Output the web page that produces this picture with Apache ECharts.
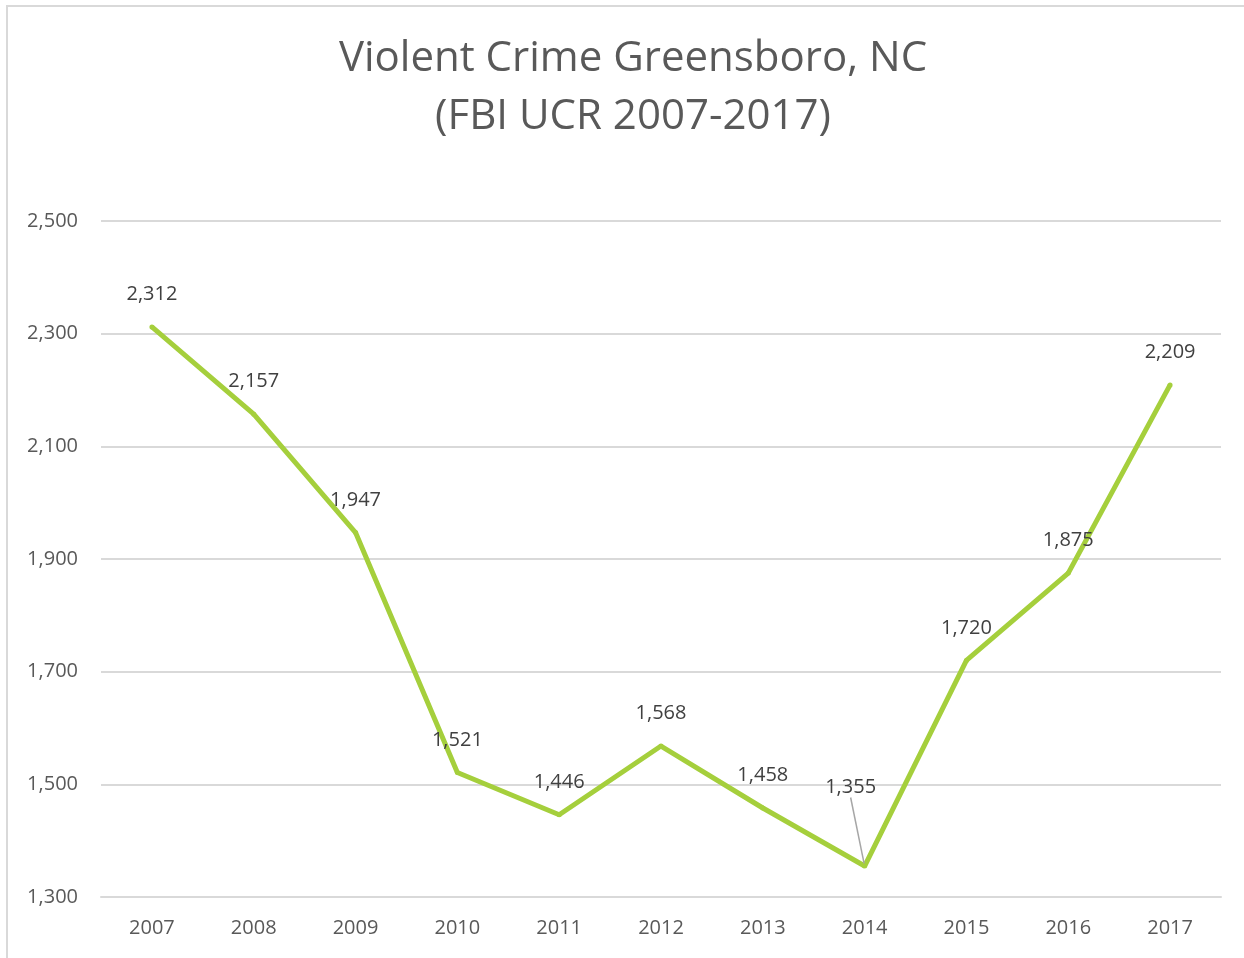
<!DOCTYPE html>
<html>
<head>
<meta charset="utf-8">
<script src="https://cdn.jsdelivr.net/npm/echarts@6/dist/echarts.min.js"></script>
<style>
  html, body { margin: 0; padding: 0; background: #fff; overflow: hidden; }
  /* a bit wider than the window so the centred title sits where it does in the original */
  #crimeChart { width: 1266px; height: 958px; }
  #frame {
    position: absolute; left: 6px; top: 5px; width: 1300px; height: 1000px;
    border: 2px solid #d9d9d9; pointer-events: none;
  }
</style>
</head>
<body>
<div id="crimeChart"></div>
<div id="frame"></div>
<script>
const years = ['2007', '2008', '2009', '2010', '2011', '2012', '2013', '2014', '2015', '2016', '2017'];
const violentCrimes = [2312, 2157, 1947, 1521, 1446, 1568, 1458, 1355, 1720, 1875, 2209];
const yTicks = [1300, 1500, 1700, 1900, 2100, 2300, 2500];

const fmt = v => Number(v).toLocaleString('en-US');
const font = "'Open Sans', 'Noto Sans', sans-serif";

// only the 2014 label is pulled away from its point, with a leader line
const seriesData = violentCrimes.map((v, i) =>
  i === 7 ? { value: v, labelLine: { show: true } } : v
);

const myChart = echarts.init(document.getElementById('crimeChart'));
const option = {
  backgroundColor: '#fff',
  animation: false,
  title: {
    text: 'Violent Crime Greensboro, NC\n(FBI UCR 2007-2017)',
    left: 'center',
    top: 25,
    textStyle: {
      fontFamily: font,
      fontSize: 42,
      fontWeight: 'normal',
      color: '#595959',
      lineHeight: 58
    }
  },
  grid: { left: 101, right: 45, top: 221, bottom: 61 },
  xAxis: {
    type: 'category',
    data: years,
    boundaryGap: true,
    axisLine: { lineStyle: { color: '#d9d9d9', width: 2 } },
    axisTick: { show: false },
    axisLabel: { color: '#595959', fontSize: 20, fontFamily: font, margin: 21 }
  },
  yAxis: {
    type: 'value',
    min: yTicks[0],
    max: yTicks[yTicks.length - 1],
    interval: 200,
    axisLine: { show: false },
    axisTick: { show: false },
    splitLine: { lineStyle: { color: '#d9d9d9', width: 2 } },
    axisLabel: {
      color: '#595959', fontSize: 20, fontFamily: font, margin: 23,
      formatter: fmt
    }
  },
  series: [{
    type: 'line',
    data: seriesData,
    symbol: 'circle',
    symbolSize: 5,
    lineStyle: { color: '#a5cf3c', width: 5 },
    itemStyle: { color: '#a5cf3c' },
    label: {
      show: true,
      position: 'top',
      distance: 20,
      color: '#404040',
      fontSize: 20,
      fontFamily: font,
      formatter: p => fmt(p.value)
    },
    labelLine: { show: false, lineStyle: { color: '#a6a6a6', width: 1.5 } },
    labelLayout: function (params) {
      if (params.dataIndex === 7) {
        return { dx: -14, dy: -46 };
      }
      return {};
    }
  }]
};
myChart.setOption(option);
</script>
</body>
</html>
